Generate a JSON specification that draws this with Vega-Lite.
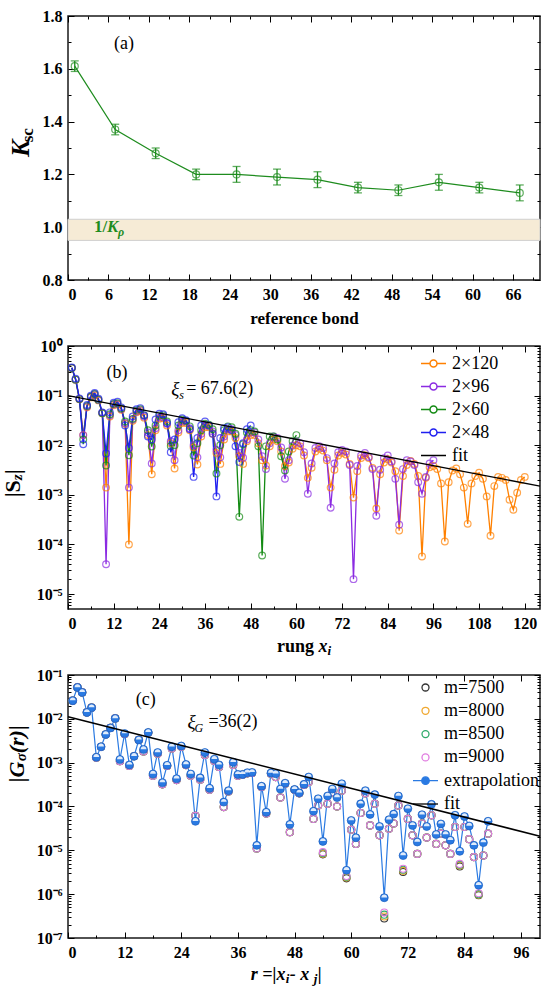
{
"$schema": "https://vega.github.io/schema/vega-lite/v6.json",
"background": "white",
"padding": {"left": 0, "top": 7, "right": 5, "bottom": 3},
"spacing": 66,
"bounds": "flush",
"config": {
  "view": {"stroke": "#1a1a1a", "strokeWidth": 1.5},
  "axis": {"labelFont": "Liberation Serif", "labelFontSize": 16, "labelFontWeight": "bold", "labelColor": "black", "tickColor": "black", "tickWidth": 1, "domain": false, "grid": false, "titleFont": "Liberation Serif", "titleColor": "black"},
  "legend": {"labelFont": "Liberation Serif", "labelColor": "black"},
  "text": {"font": "Liberation Serif", "color": "black"}
},
"datasets": {
  "one": [{}],
  "ka": [{"b":1,"k":1.61,"e":0.02},{"b":7,"k":1.37,"e":0.02},{"b":13,"k":1.28,"e":0.02},{"b":19,"k":1.2,"e":0.02},{"b":25,"k":1.2,"e":0.03},{"b":31,"k":1.19,"e":0.03},{"b":37,"k":1.18,"e":0.03},{"b":43,"k":1.15,"e":0.02},{"b":49,"k":1.14,"e":0.02},{"b":55,"k":1.17,"e":0.03},{"b":61,"k":1.15,"e":0.02},{"b":67,"k":1.13,"e":0.03}],
  "sz": [
{"x":1,"a":0.36,"b":0.36,"c":0.36,"d":0.37},
{"x":2,"a":0.21,"b":0.21,"c":0.21,"d":0.22},
{"x":3,"a":0.084,"b":0.085,"c":0.085,"d":0.088},
{"x":4,"a":0.016,"b":0.016,"c":0.013,"d":0.0105},
{"x":5,"a":0.058,"b":0.06,"c":0.062,"d":0.065},
{"x":6,"a":0.092,"b":0.095,"c":0.095,"d":0.1},
{"x":7,"a":0.1,"b":0.105,"c":0.108,"d":0.113},
{"x":8,"a":0.08,"b":0.082,"c":0.083,"d":0.087},
{"x":9,"a":0.044,"b":0.045,"c":0.044,"d":0.046},
{"x":10,"a":0.0014,"b":0.00004,"c":0.0039,"d":0.0068},
{"x":11,"a":0.038,"b":0.04,"c":0.042,"d":0.046},
{"x":12,"a":0.064,"b":0.066,"c":0.068,"d":0.072},
{"x":13,"a":0.066,"b":0.068,"c":0.07,"d":0.075},
{"x":14,"a":0.052,"b":0.054,"c":0.055,"d":0.058},
{"x":15,"a":0.027,"b":0.028,"c":0.03,"d":0.025},
{"x":16,"a":0.0001,"b":0.0014,"c":0.0063,"d":0.0088},
{"x":17,"a":0.031,"b":0.033,"c":0.034,"d":0.038},
{"x":18,"a":0.046,"b":0.048,"c":0.05,"d":0.053},
{"x":19,"a":0.049,"b":0.051,"c":0.053,"d":0.056},
{"x":20,"a":0.036,"b":0.038,"c":0.04,"d":0.04},
{"x":21,"a":0.016,"b":0.018,"c":0.02,"d":0.015},
{"x":22,"a":0.0026,"b":0.0043,"c":0.0094,"d":0.013},
{"x":23,"a":0.02,"b":0.022,"c":0.025,"d":0.033},
{"x":24,"a":0.034,"b":0.036,"c":0.04,"d":0.043},
{"x":25,"a":0.035,"b":0.037,"c":0.04,"d":0.042},
{"x":26,"a":0.025,"b":0.027,"c":0.03,"d":0.028},
{"x":27,"a":0.011,"b":0.012,"c":0.0097,"d":0.0072},
{"x":28,"a":0.0034,"b":0.005,"c":0.01,"d":0.013},
{"x":29,"a":0.018,"b":0.02,"c":0.025,"d":0.029},
{"x":30,"a":0.028,"b":0.03,"c":0.033,"d":0.035},
{"x":31,"a":0.028,"b":0.03,"c":0.031,"d":0.032},
{"x":32,"a":0.02,"b":0.022,"c":0.024,"d":0.021},
{"x":33,"a":0.009,"b":0.01,"c":0.0062,"d":0.0023},
{"x":34,"a":0.0041,"b":0.0057,"c":0.011,"d":0.014},
{"x":35,"a":0.015,"b":0.017,"c":0.02,"d":0.025},
{"x":36,"a":0.023,"b":0.025,"c":0.027,"d":0.03},
{"x":37,"a":0.023,"b":0.025,"c":0.026,"d":0.025},
{"x":38,"a":0.017,"b":0.019,"c":0.021,"d":0.017},
{"x":39,"a":0.007,"b":0.008,"c":0.0027,"d":0.00093},
{"x":40,"a":0.0042,"b":0.0057,"c":0.01,"d":0.014},
{"x":41,"a":0.013,"b":0.015,"c":0.02,"d":0.022},
{"x":42,"a":0.019,"b":0.021,"c":0.024,"d":0.023},
{"x":43,"a":0.019,"b":0.021,"c":0.023,"d":0.02},
{"x":44,"a":0.014,"b":0.016,"c":0.017,"d":0.0095},
{"x":45,"a":0.006,"b":0.007,"c":0.00036,"d":0.0046},
{"x":46,"a":0.0042,"b":0.0056,"c":0.0105,"d":0.011},
{"x":47,"a":0.012,"b":0.013,"c":0.018,"d":0.021},
{"x":48,"a":0.016,"b":0.018,"c":0.02,"d":0.025},
{"x":49,"a":0.016,"b":0.018,"c":0.019},
{"x":50,"a":0.011,"b":0.013,"c":0.0095},
{"x":51,"a":0.005,"b":0.006,"c":0.00006},
{"x":52,"a":0.0039,"b":0.0033,"c":0.0095},
{"x":53,"a":0.0095,"b":0.011,"c":0.015},
{"x":54,"a":0.013,"b":0.015,"c":0.015},
{"x":55,"a":0.012,"b":0.014,"c":0.013},
{"x":56,"a":0.0075,"b":0.009,"c":0.006},
{"x":57,"a":0.0038,"b":0.0021,"c":0.0031},
{"x":58,"a":0.0045,"b":0.005,"c":0.0075},
{"x":59,"a":0.0085,"b":0.0098,"c":0.012},
{"x":60,"a":0.01,"b":0.012,"c":0.016},
{"x":61,"a":0.0095,"b":0.011},
{"x":62,"a":0.0062,"b":0.0072},
{"x":63,"a":0.0022,"b":0.00105},
{"x":64,"a":0.0035,"b":0.0043},
{"x":65,"a":0.0075,"b":0.0088},
{"x":66,"a":0.0085,"b":0.0096},
{"x":67,"a":0.0078,"b":0.0088},
{"x":68,"a":0.005,"b":0.0055},
{"x":69,"a":0.0014,"b":0.00055},
{"x":70,"a":0.0032,"b":0.0043},
{"x":71,"a":0.0062,"b":0.0072},
{"x":72,"a":0.007,"b":0.008},
{"x":73,"a":0.0065,"b":0.0075},
{"x":74,"a":0.0042,"b":0.004},
{"x":75,"a":0.00088,"b":0.00002},
{"x":76,"a":0.003,"b":0.0038},
{"x":77,"a":0.0055,"b":0.0062},
{"x":78,"a":0.0063,"b":0.007},
{"x":79,"a":0.0055,"b":0.0058},
{"x":80,"a":0.0035,"b":0.0033},
{"x":81,"a":0.00053,"b":0.00038},
{"x":82,"a":0.0026,"b":0.0032},
{"x":83,"a":0.0045,"b":0.0055},
{"x":84,"a":0.0052,"b":0.0062},
{"x":85,"a":0.0045,"b":0.0047},
{"x":86,"a":0.003,"b":0.0021},
{"x":87,"a":0.00019,"b":0.00025},
{"x":88,"a":0.0024,"b":0.0033},
{"x":89,"a":0.004,"b":0.005},
{"x":90,"a":0.0048,"b":0.0047},
{"x":91,"a":0.0042,"b":0.004},
{"x":92,"a":0.0024,"b":0.0018},
{"x":93,"a":0.000057,"b":0.00105},
{"x":94,"a":0.0022,"b":0.0023},
{"x":95,"a":0.0036,"b":0.0043},
{"x":96,"a":0.0038,"b":0.005},
{"x":97,"a":0.0033},
{"x":98,"a":0.0017},
{"x":99,"a":0.000115},
{"x":100,"a":0.0018},
{"x":101,"a":0.0031},
{"x":102,"a":0.0034},
{"x":103,"a":0.0026},
{"x":104,"a":0.0014},
{"x":105,"a":0.00026},
{"x":106,"a":0.0017},
{"x":107,"a":0.0024},
{"x":108,"a":0.0028},
{"x":109,"a":0.0021},
{"x":110,"a":0.00093},
{"x":111,"a":0.00015},
{"x":112,"a":0.0015},
{"x":113,"a":0.0023},
{"x":114,"a":0.0022},
{"x":115,"a":0.002},
{"x":116,"a":0.0008},
{"x":117,"a":0.0005},
{"x":118,"a":0.0011},
{"x":119,"a":0.002},
{"x":120,"a":0.0023}
  ],
  "gr": [
{"r":1,"e":0.026,"a":0.026,"b":0.026,"c":0.026,"d":0.026},
{"r":2,"e":0.052,"a":0.052,"b":0.052,"c":0.052,"d":0.052},
{"r":3,"e":0.04,"a":0.04,"b":0.04,"c":0.04,"d":0.04},
{"r":4,"e":0.014,"a":0.014,"b":0.014,"c":0.014,"d":0.014},
{"r":5,"e":0.018,"a":0.018,"b":0.018,"c":0.018,"d":0.018},
{"r":6,"e":0.00133,"a":0.0013,"b":0.0013,"c":0.0013,"d":0.0013},
{"r":7,"e":0.0023,"a":0.0023,"b":0.0023,"c":0.0023,"d":0.0023},
{"r":8,"e":0.0044,"a":0.0044,"b":0.0044,"c":0.0044,"d":0.0044},
{"r":9,"e":0.0062,"a":0.0062,"b":0.0062,"c":0.0062,"d":0.0062},
{"r":10,"e":0.0102,"a":0.0102,"b":0.0102,"c":0.0102,"d":0.0102},
{"r":11,"e":0.00118,"a":0.00108,"b":0.00108,"c":0.00108,"d":0.00108},
{"r":12,"e":0.0046,"a":0.0045,"b":0.0045,"c":0.0045,"d":0.0045},
{"r":13,"e":0.00089,"a":0.00084,"b":0.00084,"c":0.00084,"d":0.00084},
{"r":14,"e":0.0014,"a":0.0014,"b":0.0014,"c":0.0014,"d":0.0014},
{"r":15,"e":0.0033,"a":0.0033,"b":0.0033,"c":0.0033,"d":0.0033},
{"r":16,"e":0.002,"a":0.0018,"b":0.0018,"c":0.0018,"d":0.0018},
{"r":17,"e":0.0049,"a":0.0048,"b":0.0048,"c":0.0048,"d":0.0048},
{"r":18,"e":0.00055,"a":0.0005,"b":0.0005,"c":0.0005,"d":0.0005},
{"r":19,"e":0.0017,"a":0.0016,"b":0.0016,"c":0.0016,"d":0.0016},
{"r":20,"e":0.00035,"a":0.00032,"b":0.00032,"c":0.00032,"d":0.00032},
{"r":21,"e":0.00087,"a":0.00084,"b":0.00084,"c":0.00084,"d":0.00084},
{"r":22,"e":0.0023,"a":0.0021,"b":0.0021,"c":0.0021,"d":0.0021},
{"r":23,"e":0.00043,"a":0.0004,"b":0.0004,"c":0.0004,"d":0.0004},
{"r":24,"e":0.0024,"a":0.0023,"b":0.0023,"c":0.0023,"d":0.0023},
{"r":25,"e":0.00091,"a":0.00088,"b":0.00088,"c":0.00088,"d":0.00088},
{"r":26,"e":0.00055,"a":0.0005,"b":0.0005,"c":0.0005,"d":0.0005},
{"r":27,"e":4.6e-5,"a":6.1e-5,"b":6.1e-5,"c":6.1e-5,"d":6.1e-5},
{"r":28,"e":0.00045,"a":0.00041,"b":0.00041,"c":0.00041,"d":0.00041},
{"r":29,"e":0.0017,"a":0.0015,"b":0.0015,"c":0.0015,"d":0.0015},
{"r":30,"e":0.00026,"a":0.00024,"b":0.00024,"c":0.00024,"d":0.00024},
{"r":31,"e":0.0012,"a":0.0011,"b":0.0011,"c":0.0011,"d":0.0011},
{"r":32,"e":0.00089,"a":0.0008,"b":0.0008,"c":0.0008,"d":0.0008},
{"r":33,"e":0.000126,"a":9.7e-5,"b":9.7e-5,"c":9.7e-5,"d":9.7e-5},
{"r":34,"e":0.00023,"a":0.00022,"b":0.00022,"c":0.00022,"d":0.00022},
{"r":35,"e":0.00102,"a":0.00089,"b":0.00089,"c":0.00089,"d":0.00089},
{"r":36,"e":0.00054,"a":0.0005,"b":0.0005,"c":0.0005,"d":0.0005},
{"r":37,"e":0.00054,"a":0.00053,"b":0.00053,"c":0.00053,"d":0.00053},
{"r":38,"e":0.00059,"a":0.00057,"b":0.00057,"c":0.00057,"d":0.00057},
{"r":39,"e":0.0006,"a":0.00058,"b":0.00058,"c":0.00058,"d":0.00058},
{"r":40,"e":1.3e-5,"a":1.1e-5,"b":1.1e-5,"c":1.1e-5,"d":1.1e-5},
{"r":41,"e":0.00029,"a":0.00028,"b":0.00028,"c":0.00028,"d":0.00028},
{"r":42,"e":7.4e-5,"a":6.9e-5,"b":6.9e-5,"c":6.9e-5,"d":6.9e-5},
{"r":43,"e":0.00058,"a":0.00056,"b":0.00056,"c":0.00056,"d":0.00056},
{"r":44,"e":0.00056,"a":0.00047,"b":0.00047,"c":0.00047,"d":0.00047},
{"r":45,"e":0.00025,"a":0.00016,"b":0.00016,"c":0.00016,"d":0.00016},
{"r":46,"e":0.00034,"a":0.00033,"b":0.00033,"c":0.00033,"d":0.00033},
{"r":47,"e":3.9e-5,"a":2.6e-5,"b":2.6e-5,"c":2.6e-5,"d":2.6e-5},
{"r":48,"e":0.000245,"a":0.00024,"b":0.00024,"c":0.00024,"d":0.00024},
{"r":49,"e":0.000205,"a":0.0002,"b":0.0002,"c":0.0002,"d":0.0002},
{"r":50,"e":0.00032,"a":0.00031,"b":0.00031,"c":0.00031,"d":0.00031},
{"r":51,"e":0.00047,"a":0.00036,"b":0.00036,"c":0.00036,"d":0.00036},
{"r":52,"e":7.8e-5,"a":5.2e-5,"b":5.2e-5,"c":5.2e-5,"d":5.2e-5},
{"r":53,"e":0.00015,"a":0.000105,"b":0.000105,"c":0.000105,"d":0.000105},
{"r":54,"e":1.6e-5,"a":8.1e-6,"b":8.4e-6,"c":8.7e-6,"d":9.1e-6},
{"r":55,"e":0.000174,"a":0.000115,"b":0.000115,"c":0.000115,"d":0.000115},
{"r":56,"e":0.00025,"a":0.00021,"b":0.00021,"c":0.00021,"d":0.00021},
{"r":57,"e":0.00016,"a":0.0001,"b":0.0001,"c":0.0001,"d":0.0001},
{"r":58,"e":0.00033,"a":0.00023,"b":0.00023,"c":0.00023,"d":0.00023},
{"r":59,"e":3.5e-6,"a":2.3e-6,"b":2.4e-6,"c":2.5e-6,"d":2.6e-6},
{"r":60,"e":4.8e-5,"a":2.95e-5,"b":2.95e-5,"c":2.95e-5,"d":2.95e-5},
{"r":61,"e":1.94e-5,"a":1.4e-5,"b":1.4e-5,"c":1.4e-5,"d":1.4e-5},
{"r":62,"e":0.000115,"a":7.1e-5,"b":7.1e-5,"c":7.1e-5,"d":7.1e-5},
{"r":63,"e":0.00023,"a":0.0002,"b":0.0002,"c":0.0002,"d":0.0002},
{"r":64,"e":6.6e-5,"a":3.7e-5,"b":3.7e-5,"c":3.7e-5,"d":3.7e-5},
{"r":65,"e":0.000187,"a":0.000115,"b":0.000115,"c":0.000115,"d":0.000115},
{"r":66,"e":3.5e-5,"a":2.2e-5,"b":2.2e-5,"c":2.2e-5,"d":2.2e-5},
{"r":67,"e":8.3e-7,"a":2.8e-7,"b":3.1e-7,"c":3.4e-7,"d":3.8e-7},
{"r":68,"e":5e-5,"a":3.1e-5,"b":3.1e-5,"c":3.1e-5,"d":3.1e-5},
{"r":69,"e":6.7e-5,"a":4.1e-5,"b":4.1e-5,"c":4.1e-5,"d":4.1e-5},
{"r":70,"e":0.000173,"a":0.000105,"b":0.000105,"c":0.000105,"d":0.000105},
{"r":71,"e":7.6e-6,"a":3.2e-6,"b":3.4e-6,"c":3.6e-6,"d":3.8e-6},
{"r":72,"e":8.9e-5,"a":5.2e-5,"b":5.2e-5,"c":5.2e-5,"d":5.2e-5},
{"r":73,"e":3.7e-5,"a":2.2e-5,"b":2.2e-5,"c":2.2e-5,"d":2.2e-5},
{"r":74,"e":1.55e-5,"a":8.3e-6,"b":8.3e-6,"c":8.3e-6,"d":8.3e-6},
{"r":75,"e":6.5e-5,"a":4.1e-5,"b":4.1e-5,"c":4.1e-5,"d":4.1e-5},
{"r":76,"e":3.5e-5,"a":1.95e-5,"b":1.95e-5,"c":1.95e-5,"d":1.95e-5},
{"r":77,"e":0.000112,"a":6.3e-5,"b":6.3e-5,"c":6.3e-5,"d":6.3e-5},
{"r":78,"e":2.3e-5,"a":1.4e-5,"b":1.4e-5,"c":1.4e-5,"d":1.4e-5},
{"r":79,"e":4e-5,"a":2.4e-5,"b":2.4e-5,"c":2.4e-5,"d":2.4e-5},
{"r":80,"e":2.3e-5,"a":1.3e-5,"b":1.3e-5,"c":1.3e-5,"d":1.3e-5},
{"r":81,"e":1.7e-5,"a":8.3e-6,"b":8.3e-6,"c":8.3e-6,"d":8.3e-6},
{"r":82,"e":6.3e-5,"a":3.4e-5,"b":3.4e-5,"c":3.4e-5,"d":3.4e-5},
{"r":83,"e":9.5e-6,"a":4.3e-6,"b":4.5e-6,"c":4.7e-6,"d":4.9e-6},
{"r":84,"e":5.9e-5,"a":3.4e-5,"b":3.4e-5,"c":3.4e-5,"d":3.4e-5},
{"r":85,"e":3.6e-5,"a":1.8e-5,"b":1.8e-5,"c":1.8e-5,"d":1.8e-5},
{"r":86,"e":1.3e-5,"a":7e-6,"b":7e-6,"c":7e-6,"d":7e-6},
{"r":87,"e":1.6e-6,"a":9.5e-7,"b":9.7e-7,"c":1e-6,"d":1.05e-6},
{"r":88,"e":1.5e-5,"a":7.6e-6,"b":7.6e-6,"c":7.6e-6,"d":7.6e-6},
{"r":89,"e":4.6e-5,"a":2.4e-5,"b":2.4e-5,"c":2.4e-5,"d":2.4e-5}
  ]
},
"resolve": {"scale": {"x": "independent", "y": "independent", "color": "independent"}, "legend": {"color": "independent"}},
"vconcat": [
{
  "width": 472, "height": 264,
  "resolve": {"axis": {"x": "independent", "y": "independent"}},
  "layer": [
    {"data": {"values": [{"lo": 0.95, "hi": 1.03}]},
     "mark": {"type": "rect", "fill": "#f6ebd6", "stroke": "#cfcfcf", "strokeWidth": 1},
     "encoding": {
       "x": {"datum": 0, "type": "quantitative", "scale": {"domain": [0, 70], "nice": false, "zero": false},
             "axis": {"orient": "bottom", "values": [0,3,6,9,12,15,18,21,24,27,30,33,36,39,42,45,48,51,54,57,60,63,66,69], "labelExpr": "datum.value % 6 === 0 ? datum.label : ''", "tickSize": {"condition": {"test": "datum.value % 6 === 0", "value": -6}, "value": -3}, "labelPadding": 12, "title": "reference bond", "titleFontSize": 17, "titleFontWeight": "bold", "titlePadding": 8}},
       "x2": {"datum": 70},
       "y": {"field": "lo", "type": "quantitative", "scale": {"domain": [0.8, 1.8], "nice": false, "zero": false},
             "axis": {"orient": "left", "values": [0.8,0.9,1,1.1,1.2,1.3,1.4,1.5,1.6,1.7,1.8], "format": ".1f", "labelExpr": "abs(datum.value*5 - round(datum.value*5)) < 0.001 ? datum.label : ''", "tickSize": {"condition": {"test": "abs(datum.value*5 - round(datum.value*5)) < 0.001", "value": -6}, "value": -3}, "labelPadding": 12, "title": null}},
       "y2": {"field": "hi"}}},
    {"data": {"name": "ka"},
     "mark": {"type": "errorbar", "ticks": true, "color": "#1e8c1e", "thickness": 1.3, "size": 8},
     "encoding": {"x": {"field": "b", "type": "quantitative", "axis": null}, "y": {"field": "k", "type": "quantitative", "axis": null}, "yError": {"field": "e"}}},
    {"data": {"name": "ka"},
     "mark": {"type": "line", "color": "#1e8c1e", "strokeWidth": 1.2},
     "encoding": {"x": {"field": "b", "type": "quantitative", "axis": null}, "y": {"field": "k", "type": "quantitative", "axis": null}}},
    {"data": {"name": "ka"},
     "mark": {"type": "point", "filled": false, "color": "#1e8c1e", "size": 49, "strokeWidth": 1.2},
     "encoding": {"x": {"field": "b", "type": "quantitative", "axis": null}, "y": {"field": "k", "type": "quantitative", "axis": null}}},
    {"data": {"name": "one"},
     "mark": {"type": "text", "text": "(a)", "fontSize": 18, "align": "center", "baseline": "middle"},
     "encoding": {
       "x": {"datum": 8.3, "type": "quantitative", "axis": {"orient": "top", "values": [0,3,6,9,12,15,18,21,24,27,30,33,36,39,42,45,48,51,54,57,60,63,66,69], "labels": false, "tickSize": {"condition": {"test": "datum.value % 6 === 0", "value": -6}, "value": -3}, "title": null}},
       "y": {"datum": 1.693, "type": "quantitative", "axis": {"orient": "right", "values": [0.8,0.9,1,1.1,1.2,1.3,1.4,1.5,1.6,1.7,1.8], "labels": false, "tickSize": {"condition": {"test": "abs(datum.value*5 - round(datum.value*5)) < 0.001", "value": -6}, "value": -3}, "title": null}}}},
    {"data": {"name": "one"},
     "mark": {"type": "text", "text": "1/", "fontSize": 17, "fontWeight": "bold", "color": "#1e8c1e", "align": "left", "baseline": "middle"},
     "encoding": {"x": {"datum": 3.86, "type": "quantitative", "axis": null}, "y": {"datum": 1.0, "type": "quantitative", "axis": null}}},
    {"data": {"name": "one"},
     "mark": {"type": "text", "text": "K", "fontSize": 17, "fontWeight": "bold", "fontStyle": "italic", "color": "#1e8c1e", "align": "left", "baseline": "middle", "dx": 13},
     "encoding": {"x": {"datum": 3.86, "type": "quantitative", "axis": null}, "y": {"datum": 1.0, "type": "quantitative", "axis": null}}},
    {"data": {"name": "one"},
     "mark": {"type": "text", "text": "ρ", "fontSize": 12, "fontWeight": "bold", "fontStyle": "italic", "color": "#1e8c1e", "align": "left", "baseline": "middle", "dx": 24, "dy": 5},
     "encoding": {"x": {"datum": 3.86, "type": "quantitative", "axis": null}, "y": {"datum": 1.0, "type": "quantitative", "axis": null}}},
    {"data": {"name": "one"},
     "mark": {"type": "text", "text": "K", "fontSize": 26, "fontWeight": "bold", "fontStyle": "italic", "align": "center", "baseline": "middle", "angle": 270},
     "encoding": {"x": {"datum": -6.97, "type": "quantitative", "axis": null}, "y": {"datum": 1.299, "type": "quantitative", "axis": null}}},
    {"data": {"name": "one"},
     "mark": {"type": "text", "text": "sc", "fontSize": 17, "fontWeight": "bold", "align": "center", "baseline": "middle", "angle": 270, "dx": 13, "dy": 7},
     "encoding": {"x": {"datum": -6.97, "type": "quantitative", "axis": null}, "y": {"datum": 1.299, "type": "quantitative", "axis": null}}}
  ]
},
{
  "width": 472, "height": 263,
  "resolve": {"axis": {"x": "independent", "y": "independent"}},
  "layer": [
    {"data": {"name": "sz"},
     "transform": [{"fold": ["a", "b", "c", "d"], "as": ["s", "v"]}, {"filter": "isValid(datum.v)"}],
     "mark": {"type": "line", "strokeWidth": 1.3},
     "encoding": {
       "x": {"field": "x", "type": "quantitative", "scale": {"domain": [0, 124], "nice": false, "zero": false},
             "axis": {"orient": "bottom", "values": [0,6,12,18,24,30,36,42,48,54,60,66,72,78,84,90,96,102,108,114,120], "labelExpr": "datum.value % 12 === 0 ? datum.label : ''", "tickSize": {"condition": {"test": "datum.value % 12 === 0", "value": -6}, "value": -3}, "labelPadding": 12, "title": null}},
       "y": {"field": "v", "type": "quantitative", "scale": {"type": "log", "domain": [0.000005, 1], "nice": false},
             "axis": {"orient": "left", "values": [6e-6,7e-6,8e-6,9e-6,1e-5,2e-5,3e-5,4e-5,5e-5,6e-5,7e-5,8e-5,9e-5,1e-4,2e-4,3e-4,4e-4,5e-4,6e-4,7e-4,8e-4,9e-4,0.001,0.002,0.003,0.004,0.005,0.006,0.007,0.008,0.009,0.01,0.02,0.03,0.04,0.05,0.06,0.07,0.08,0.09,0.1,0.2,0.3,0.4,0.5,0.6,0.7,0.8,0.9,1],
                      "labelExpr": "abs(log(datum.value)/LN10 - round(log(datum.value)/LN10)) < 0.000001 ? '10' + ['⁰','⁻¹','⁻²','⁻³','⁻⁴','⁻⁵','⁻⁶','⁻⁷'][round(-log(datum.value)/LN10)] : ''",
                      "tickSize": {"condition": {"test": "abs(log(datum.value)/LN10 - round(log(datum.value)/LN10)) < 0.000001", "value": -6}, "value": -3}, "labelPadding": 12, "title": null}},
       "color": {"field": "s", "type": "nominal", "title": null, "scale": {"domain": ["a", "b", "c", "d", "fit"], "range": ["#ff8000", "#8b2be2", "#138a13", "#1f1ff0", "black"]},
                 "legend": {"orient": "none", "legendX": 352, "legendY": 4, "title": null, "labelFontSize": 18, "labelOffset": 5, "rowPadding": 0, "symbolSize": 625, "symbolStrokeWidth": 1.5, "padding": 0,
                            "labelExpr": "datum.label==='a'?'2×120':datum.label==='b'?'2×96':datum.label==='c'?'2×60':datum.label==='d'?'2×48':'fit'",
                            "encode": {"symbols": {"update": {
                              "shape": {"signal": "datum.value==='fit'?'M-1,0L1,0M0,-0.3L0,-0.3M0,0.3L0,0.3':'M-1,0L-0.28,0M0.28,0L1,0M-0.28,0A0.28,0.28,0,1,1,0.28,0A0.28,0.28,0,1,1,-0.28,0Z'"},
                              "fill": {"value": "transparent"},
                              "stroke": {"signal": "datum.value==='a'?'#ff8000':datum.value==='b'?'#8b2be2':datum.value==='c'?'#138a13':datum.value==='d'?'#1f1ff0':'black'"},
                              "strokeWidth": {"value": 1.5}}}}}}}},
    {"data": {"name": "sz"},
     "transform": [{"fold": ["a", "b", "c", "d"], "as": ["s", "v"]}, {"filter": "isValid(datum.v)"}],
     "mark": {"type": "point", "filled": false, "size": 45, "strokeWidth": 1.2},
     "encoding": {"x": {"field": "x", "type": "quantitative", "axis": null}, "y": {"field": "v", "type": "quantitative", "axis": null}, "color": {"field": "s", "type": "nominal", "title": null}}},
    {"data": {"values": [{"x": 0, "v": 0.1}, {"x": 124, "v": 0.0015}]},
     "mark": {"type": "line", "strokeWidth": 1.3, "color": "black"},
     "encoding": {
       "x": {"field": "x", "type": "quantitative", "axis": {"orient": "top", "values": [0,6,12,18,24,30,36,42,48,54,60,66,72,78,84,90,96,102,108,114,120], "labels": false, "tickSize": {"condition": {"test": "datum.value % 12 === 0", "value": -6}, "value": -3}, "title": null}},
       "y": {"field": "v", "type": "quantitative", "axis": {"orient": "right", "values": [6e-6,7e-6,8e-6,9e-6,1e-5,2e-5,3e-5,4e-5,5e-5,6e-5,7e-5,8e-5,9e-5,1e-4,2e-4,3e-4,4e-4,5e-4,6e-4,7e-4,8e-4,9e-4,0.001,0.002,0.003,0.004,0.005,0.006,0.007,0.008,0.009,0.01,0.02,0.03,0.04,0.05,0.06,0.07,0.08,0.09,0.1,0.2,0.3,0.4,0.5,0.6,0.7,0.8,0.9,1], "labels": false, "tickSize": {"condition": {"test": "abs(log(datum.value)/LN10 - round(log(datum.value)/LN10)) < 0.000001", "value": -6}, "value": -3}, "title": null}}}},
    {"data": {"name": "one"},
     "mark": {"type": "text", "text": "(b)", "fontSize": 18, "align": "center", "baseline": "middle"},
     "encoding": {"x": {"datum": 12.9, "type": "quantitative", "axis": null}, "y": {"datum": 0.29, "type": "quantitative", "axis": null}}},
    {"data": {"name": "one"},
     "mark": {"type": "text", "text": "ξ", "fontSize": 19, "fontStyle": "italic", "align": "left", "baseline": "middle"},
     "encoding": {"x": {"datum": 27.1, "type": "quantitative", "axis": null}, "y": {"datum": 0.134, "type": "quantitative", "axis": null}}},
    {"data": {"name": "one"},
     "mark": {"type": "text", "text": "s", "fontSize": 12, "fontStyle": "italic", "align": "left", "baseline": "middle", "dx": 8, "dy": 6},
     "encoding": {"x": {"datum": 27.1, "type": "quantitative", "axis": null}, "y": {"datum": 0.134, "type": "quantitative", "axis": null}}},
    {"data": {"name": "one"},
     "mark": {"type": "text", "text": "= 67.6(2)", "fontSize": 18, "align": "left", "baseline": "middle", "dx": 15},
     "encoding": {"x": {"datum": 27.1, "type": "quantitative", "axis": null}, "y": {"datum": 0.134, "type": "quantitative", "axis": null}}},
    {"data": {"name": "one"},
     "mark": {"type": "text", "text": "|S", "fontSize": 22, "fontWeight": "bold", "align": "left", "baseline": "middle", "angle": 270},
     "encoding": {"x": {"datum": -14.56, "type": "quantitative", "axis": null}, "y": {"datum": 0.00089, "type": "quantitative", "axis": null}}},
    {"data": {"name": "one"},
     "mark": {"type": "text", "text": "z", "fontSize": 15, "fontWeight": "bold", "fontStyle": "italic", "align": "left", "baseline": "middle", "angle": 270, "dx": 17, "dy": 4},
     "encoding": {"x": {"datum": -14.56, "type": "quantitative", "axis": null}, "y": {"datum": 0.00089, "type": "quantitative", "axis": null}}},
    {"data": {"name": "one"},
     "mark": {"type": "text", "text": "|", "fontSize": 22, "fontWeight": "bold", "align": "left", "baseline": "middle", "angle": 270, "dx": 23},
     "encoding": {"x": {"datum": -14.56, "type": "quantitative", "axis": null}, "y": {"datum": 0.00089, "type": "quantitative", "axis": null}}},
    {"data": {"name": "one"},
     "mark": {"type": "text", "text": "rung", "fontSize": 18, "fontWeight": "bold", "align": "left", "baseline": "middle", "dx": -27},
     "encoding": {"x": {"datum": 62, "type": "quantitative", "axis": null}, "y": {"datum": 8.4e-7, "type": "quantitative", "axis": null}}},
    {"data": {"name": "one"},
     "mark": {"type": "text", "text": "x", "fontSize": 18, "fontWeight": "bold", "fontStyle": "italic", "align": "left", "baseline": "middle", "dx": 14.5},
     "encoding": {"x": {"datum": 62, "type": "quantitative", "axis": null}, "y": {"datum": 8.4e-7, "type": "quantitative", "axis": null}}},
    {"data": {"name": "one"},
     "mark": {"type": "text", "text": "i", "fontSize": 13, "fontWeight": "bold", "fontStyle": "italic", "align": "left", "baseline": "middle", "dx": 23.5, "dy": 4},
     "encoding": {"x": {"datum": 62, "type": "quantitative", "axis": null}, "y": {"datum": 8.4e-7, "type": "quantitative", "axis": null}}}
  ]
},
{
  "width": 472, "height": 263,
  "resolve": {"axis": {"x": "independent", "y": "independent"}},
  "layer": [
    {"data": {"name": "gr"},
     "mark": {"type": "line", "strokeWidth": 1.2},
     "encoding": {
       "x": {"field": "r", "type": "quantitative", "scale": {"domain": [0, 100], "nice": false, "zero": false},
             "axis": {"orient": "bottom", "values": [0,6,12,18,24,30,36,42,48,54,60,66,72,78,84,90,96], "labelExpr": "datum.value % 12 === 0 ? datum.label : ''", "tickSize": {"condition": {"test": "datum.value % 12 === 0", "value": -6}, "value": -3}, "labelPadding": 12, "title": null}},
       "y": {"field": "e", "type": "quantitative", "scale": {"type": "log", "domain": [1e-7, 0.1], "nice": false},
             "axis": {"orient": "left", "values": [1e-7,2e-7,3e-7,4e-7,5e-7,6e-7,7e-7,8e-7,9e-7,1e-6,2e-6,3e-6,4e-6,5e-6,6e-6,7e-6,8e-6,9e-6,1e-5,2e-5,3e-5,4e-5,5e-5,6e-5,7e-5,8e-5,9e-5,1e-4,2e-4,3e-4,4e-4,5e-4,6e-4,7e-4,8e-4,9e-4,0.001,0.002,0.003,0.004,0.005,0.006,0.007,0.008,0.009,0.01,0.02,0.03,0.04,0.05,0.06,0.07,0.08,0.09,0.1],
                      "labelExpr": "abs(log(datum.value)/LN10 - round(log(datum.value)/LN10)) < 0.000001 ? '10' + ['⁰','⁻¹','⁻²','⁻³','⁻⁴','⁻⁵','⁻⁶','⁻⁷'][round(-log(datum.value)/LN10)] : ''",
                      "tickSize": {"condition": {"test": "abs(log(datum.value)/LN10 - round(log(datum.value)/LN10)) < 0.000001", "value": -6}, "value": -3}, "labelPadding": 12, "title": null}},
       "color": {"datum": "e", "type": "nominal", "title": null, "scale": {"domain": ["a", "b", "c", "d", "e", "fit"], "range": ["#333333", "#f0a830", "#2eaa6a", "#e07be0", "#2a7ae2", "black"]},
                 "legend": {"orient": "none", "legendX": 344, "legendY": -1, "title": null, "labelFontSize": 18, "labelOffset": 5, "rowPadding": 0.3, "symbolSize": 625, "symbolStrokeWidth": 1.3, "padding": 0,
                            "labelExpr": "datum.label==='a'?'m=7500':datum.label==='b'?'m=8000':datum.label==='c'?'m=8500':datum.label==='d'?'m=9000':datum.label==='e'?'extrapolation':'fit'",
                            "encode": {"symbols": {"update": {
                              "shape": {"signal": "datum.value==='fit'?'M-1,0L1,0M0,-0.3L0,-0.3M0,0.3L0,0.3':datum.value==='e'?'M-1,0L1,0M-0.3,0A0.3,0.3,0,1,1,0.3,0A0.3,0.3,0,1,1,-0.3,0Z':'M-0.28,0A0.28,0.28,0,1,1,0.28,0A0.28,0.28,0,1,1,-0.28,0Z'"},
                              "fill": {"signal": "datum.value==='e'?'#2a7ae2':'transparent'"},
                              "stroke": {"signal": "datum.value==='a'?'#333333':datum.value==='b'?'#f0a830':datum.value==='c'?'#2eaa6a':datum.value==='d'?'#e07be0':datum.value==='e'?'#2a7ae2':'black'"},
                              "opacity": {"value": 1},
                              "strokeWidth": {"value": 1.3}}}}}}}},
    {"data": {"name": "gr"},
     "transform": [{"fold": ["a", "b", "c", "d"], "as": ["s", "v"]}],
     "mark": {"type": "point", "filled": false, "size": 50, "strokeWidth": 1.1, "opacity": 1},
     "encoding": {"x": {"field": "r", "type": "quantitative", "axis": null}, "y": {"field": "v", "type": "quantitative", "axis": null}, "color": {"field": "s", "type": "nominal", "title": null}}},
    {"data": {"name": "gr"},
     "mark": {"type": "point", "filled": true, "size": 64, "fill": "#2a7ae2", "stroke": "#1b5fc0", "strokeWidth": 0.7, "opacity": 1},
     "encoding": {"x": {"field": "r", "type": "quantitative", "axis": null}, "y": {"field": "e", "type": "quantitative", "axis": null}}},
    {"data": {"name": "gr"},
     "mark": {"type": "point", "filled": true, "size": 64, "color": "white", "opacity": 0.85, "shape": "M-0.72,-0.08A0.72,0.72,0,0,1,0.72,-0.08Z", "strokeWidth": 0},
     "encoding": {"x": {"field": "r", "type": "quantitative", "axis": null}, "y": {"field": "e", "type": "quantitative", "axis": null}}},
    {"data": {"values": [{"r": 0, "e": 0.0112}, {"r": 100, "e": 0.000021}]},
     "mark": {"type": "line", "strokeWidth": 1.5, "color": "black"},
     "encoding": {
       "x": {"field": "r", "type": "quantitative", "axis": {"orient": "top", "values": [0,6,12,18,24,30,36,42,48,54,60,66,72,78,84,90,96], "labels": false, "tickSize": {"condition": {"test": "datum.value % 12 === 0", "value": -6}, "value": -3}, "title": null}},
       "y": {"field": "e", "type": "quantitative", "axis": {"orient": "right", "values": [1e-7,2e-7,3e-7,4e-7,5e-7,6e-7,7e-7,8e-7,9e-7,1e-6,2e-6,3e-6,4e-6,5e-6,6e-6,7e-6,8e-6,9e-6,1e-5,2e-5,3e-5,4e-5,5e-5,6e-5,7e-5,8e-5,9e-5,1e-4,2e-4,3e-4,4e-4,5e-4,6e-4,7e-4,8e-4,9e-4,0.001,0.002,0.003,0.004,0.005,0.006,0.007,0.008,0.009,0.01,0.02,0.03,0.04,0.05,0.06,0.07,0.08,0.09,0.1], "labels": false, "tickSize": {"condition": {"test": "abs(log(datum.value)/LN10 - round(log(datum.value)/LN10)) < 0.000001", "value": -6}, "value": -3}, "title": null}}}},
    {"data": {"name": "one"},
     "mark": {"type": "text", "text": "(c)", "fontSize": 18, "align": "center", "baseline": "middle"},
     "encoding": {"x": {"datum": 16.46, "type": "quantitative", "axis": null}, "y": {"datum": 0.0265, "type": "quantitative", "axis": null}}},
    {"data": {"name": "one"},
     "mark": {"type": "text", "text": "ξ", "fontSize": 19, "fontStyle": "italic", "align": "left", "baseline": "middle"},
     "encoding": {"x": {"datum": 25.3, "type": "quantitative", "axis": null}, "y": {"datum": 0.00847, "type": "quantitative", "axis": null}}},
    {"data": {"name": "one"},
     "mark": {"type": "text", "text": "G", "fontSize": 12, "fontStyle": "italic", "align": "left", "baseline": "middle", "dx": 7, "dy": 6},
     "encoding": {"x": {"datum": 25.3, "type": "quantitative", "axis": null}, "y": {"datum": 0.00847, "type": "quantitative", "axis": null}}},
    {"data": {"name": "one"},
     "mark": {"type": "text", "text": "=36(2)", "fontSize": 18, "align": "left", "baseline": "middle", "dx": 21},
     "encoding": {"x": {"datum": 25.3, "type": "quantitative", "axis": null}, "y": {"datum": 0.00847, "type": "quantitative", "axis": null}}},
    {"data": {"name": "one"},
     "mark": {"type": "text", "text": "|G", "fontSize": 22, "fontWeight": "bold", "fontStyle": "italic", "align": "left", "baseline": "middle", "angle": 270},
     "encoding": {"x": {"datum": -10.87, "type": "quantitative", "axis": null}, "y": {"datum": 0.000356, "type": "quantitative", "axis": null}}},
    {"data": {"name": "one"},
     "mark": {"type": "text", "text": "σ", "fontSize": 15, "fontWeight": "bold", "fontStyle": "italic", "align": "left", "baseline": "middle", "angle": 270, "dx": 21, "dy": 4},
     "encoding": {"x": {"datum": -10.87, "type": "quantitative", "axis": null}, "y": {"datum": 0.000356, "type": "quantitative", "axis": null}}},
    {"data": {"name": "one"},
     "mark": {"type": "text", "text": "(r)|", "fontSize": 22, "fontWeight": "bold", "fontStyle": "italic", "align": "left", "baseline": "middle", "angle": 270, "dx": 29},
     "encoding": {"x": {"datum": -10.87, "type": "quantitative", "axis": null}, "y": {"datum": 0.000356, "type": "quantitative", "axis": null}}},
    {"data": {"name": "one"},
     "mark": {"type": "text", "text": "r =|x", "fontSize": 18, "fontWeight": "bold", "fontStyle": "italic", "align": "left", "baseline": "middle"},
     "encoding": {"x": {"datum": 38.7, "type": "quantitative", "axis": null}, "y": {"datum": 1.41e-8, "type": "quantitative", "axis": null}}},
    {"data": {"name": "one"},
     "mark": {"type": "text", "text": "i", "fontSize": 13, "fontWeight": "bold", "fontStyle": "italic", "align": "left", "baseline": "middle", "dx": 35, "dy": 4},
     "encoding": {"x": {"datum": 38.7, "type": "quantitative", "axis": null}, "y": {"datum": 1.41e-8, "type": "quantitative", "axis": null}}},
    {"data": {"name": "one"},
     "mark": {"type": "text", "text": " - x", "fontSize": 18, "fontWeight": "bold", "fontStyle": "italic", "align": "left", "baseline": "middle", "dx": 39},
     "encoding": {"x": {"datum": 38.7, "type": "quantitative", "axis": null}, "y": {"datum": 1.41e-8, "type": "quantitative", "axis": null}}},
    {"data": {"name": "one"},
     "mark": {"type": "text", "text": "j", "fontSize": 13, "fontWeight": "bold", "fontStyle": "italic", "align": "left", "baseline": "middle", "dx": 63, "dy": 4},
     "encoding": {"x": {"datum": 38.7, "type": "quantitative", "axis": null}, "y": {"datum": 1.41e-8, "type": "quantitative", "axis": null}}},
    {"data": {"name": "one"},
     "mark": {"type": "text", "text": "|", "fontSize": 18, "fontWeight": "bold", "fontStyle": "italic", "align": "left", "baseline": "middle", "dx": 67},
     "encoding": {"x": {"datum": 38.7, "type": "quantitative", "axis": null}, "y": {"datum": 1.41e-8, "type": "quantitative", "axis": null}}}
  ]
}
]
}
